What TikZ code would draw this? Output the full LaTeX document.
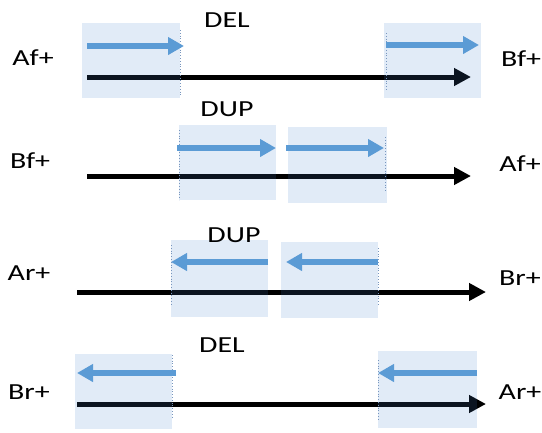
\documentclass[tikz,border=0pt]{standalone}
\usepackage{fontspec}
\newfontfamily\labfont[FakeStretch=1.3]{Carlito}
\usetikzlibrary{arrows.meta}
\definecolor{boxblue}{RGB}{70,128,205}
\definecolor{arrblue}{RGB}{91,155,213}
\definecolor{dotblue}{RGB}{120,150,190}
\tikzset{
  lab/.style={anchor=base, inner sep=0pt, font=\labfont\fontsize{23}{23}\selectfont},
  region/.style={draw=none, fill=boxblue, fill opacity=0.16, inner sep=0pt, minimum width=#1, minimum height=75, anchor=north west},
  region/.default=97,
  chrom/.style={line width=5pt, -{Triangle[length=17pt,width=17pt]}},
  seg/.style={arrblue, line width=6pt, -{Triangle[length=16pt,width=17pt]}},
  edge/.style={dotblue, line width=0.8pt, dotted},
}
\begin{document}
\begin{tikzpicture}[x=1pt,y=-1pt]
\useasboundingbox (0,0) rectangle (542,432);
% ---------- panel 1: DEL ----------
\coordinate (c1s) at (87,77); \coordinate (c1e) at (471,77);
\draw[chrom] (c1s) -- (c1e);
\node[region=98] (b1a) at (82,23) {};
\node[region=97] (b1b) at (384,23) {};
\draw[edge] (180,30) -- (180,96);
\draw[edge] (386,33) -- (386,90);
\coordinate (s1as) at (87,46); \coordinate (s1ae) at (184,46);
\coordinate (s1bs) at (386,45); \coordinate (s1be) at (479,45);
\draw[seg] (s1as) -- (s1ae);
\draw[seg] (s1bs) -- (s1be);
\node[lab] (l1a) at (33,65) {Af+};
\node[lab] (l1b) at (227,27) {DEL};
\node[lab] (l1c) at (521,66) {Bf+};
% ---------- panel 2: DUP ----------
\coordinate (c2s) at (87,176); \coordinate (c2e) at (471,176);
\draw[chrom] (c2s) -- (c2e);
\node[region=97] (b2a) at (179,125) {};
\node[region=99, minimum height=76] (b2b) at (288,127) {};
\draw[edge] (179,130) -- (179,200);
\draw[edge] (385,137) -- (385,192);
\coordinate (s2as) at (177,148); \coordinate (s2ae) at (276,148);
\coordinate (s2bs) at (286,148); \coordinate (s2be) at (384,148);
\draw[seg] (s2as) -- (s2ae);
\draw[seg] (s2bs) -- (s2be);
\node[lab] (l2a) at (30,168) {Bf+};
\node[lab] (l2b) at (227,116) {DUP};
\node[lab] (l2c) at (520,171) {Af+};
% ---------- panel 3: DUP ----------
\coordinate (c3s) at (77,292); \coordinate (c3e) at (486,292);
\draw[chrom] (c3s) -- (c3e);
\node[region=97, minimum height=77] (b3a) at (171,240) {};
\node[region=97, minimum height=76] (b3b) at (281,242) {};
\draw[edge] (171,245) -- (171,305);
\draw[edge] (378,248) -- (378,305);
\coordinate (s3as) at (268,262); \coordinate (s3ae) at (171,262);
\coordinate (s3bs) at (378,262); \coordinate (s3be) at (286,262);
\draw[seg] (s3as) -- (s3ae);
\draw[seg] (s3bs) -- (s3be);
\node[lab] (l3a) at (29,280) {Ar+};
\node[lab] (l3b) at (234,242) {DUP};
\node[lab] (l3c) at (520,285) {Br+};
% ---------- panel 4: DEL ----------
\coordinate (c4s) at (77,404); \coordinate (c4e) at (486,404);
\draw[chrom] (c4s) -- (c4e);
\node[region=97] (b4a) at (75,354) {};
\node[region=99, minimum height=77] (b4b) at (378,351) {};
\draw[edge] (172,355) -- (172,417);
\draw[edge] (378,360) -- (378,419);
\coordinate (s4as) at (176,373); \coordinate (s4ae) at (77,373);
\coordinate (s4bs) at (477,373); \coordinate (s4be) at (378,373);
\draw[seg] (s4as) -- (s4ae);
\draw[seg] (s4bs) -- (s4be);
\node[lab] (l4a) at (29,399) {Br+};
\node[lab] (l4b) at (222,352) {DEL};
\node[lab] (l4c) at (520,399) {Ar+};
\end{tikzpicture}
\end{document}
